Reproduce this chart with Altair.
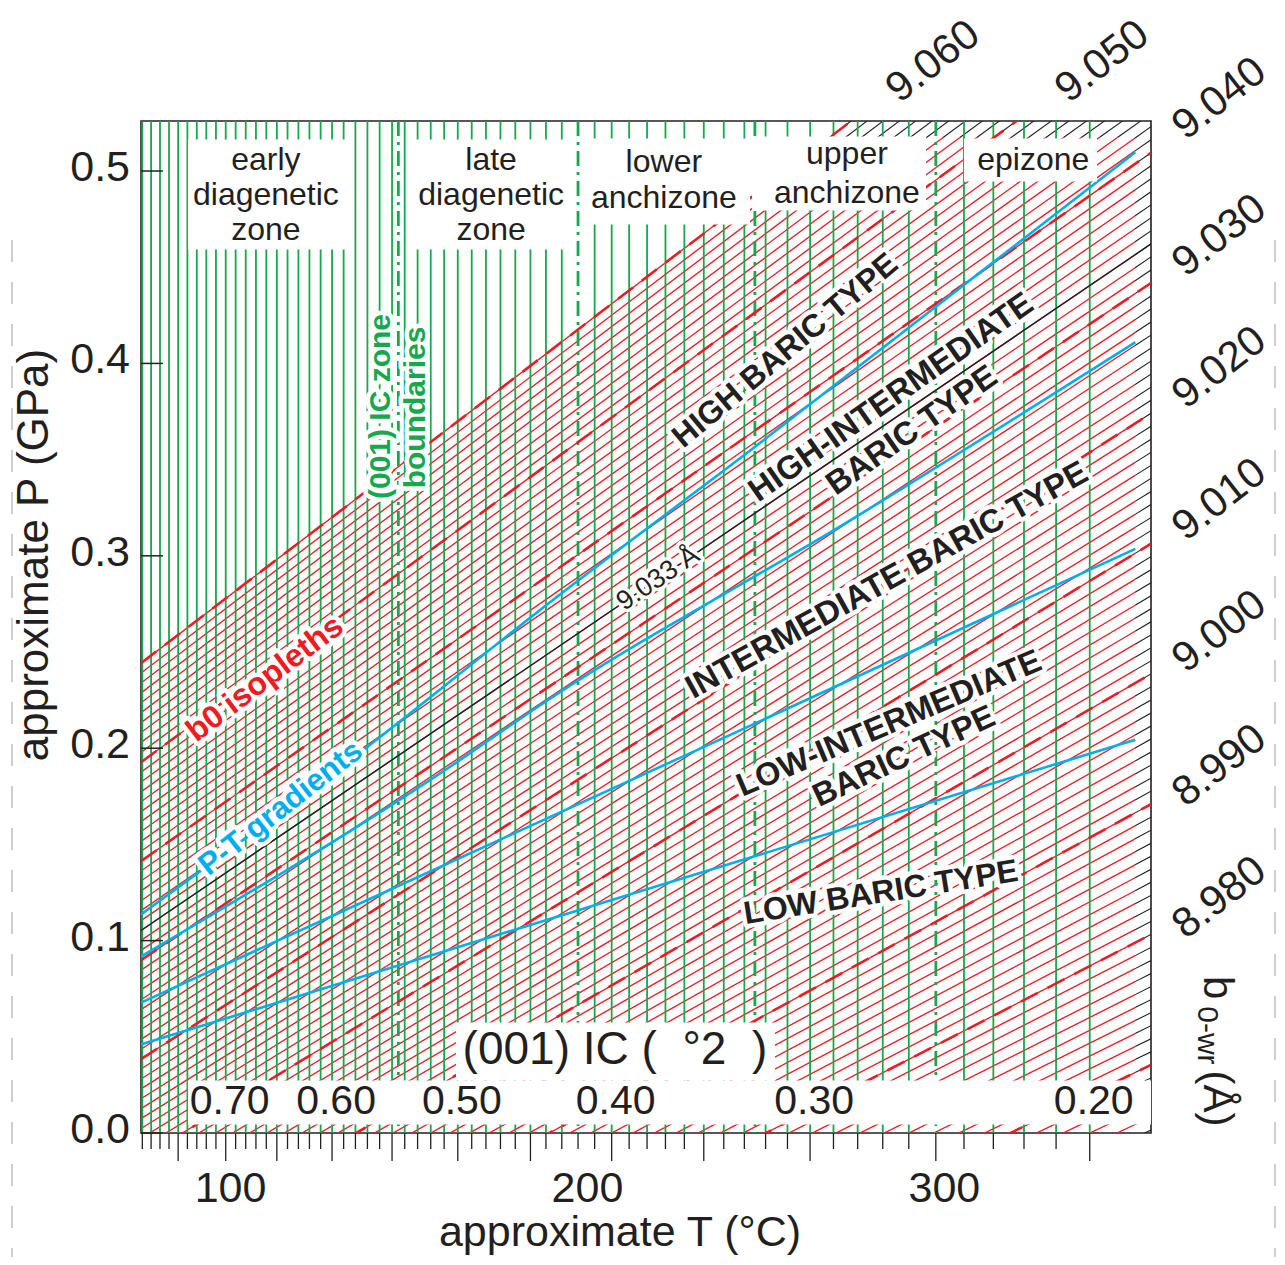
import altair as alt
import pandas as pd

FONT = "Liberation Sans"
INK = "#231f20"
RED = "#ed1c24"
GREEN = "#17a84d"
BLUE = "#00aeef"

W, H = 1010, 1012

# ---------------- axis domains ----------------
T_DOMAIN = [74.9, 357.9]          # approximate T (°C) at left / right edge
P_DOMAIN = [0.0, 0.526]           # approximate P (GPa) at bottom / top edge
IC_DOMAIN = [0.7915, 0.1830]      # (001) IC value at left / right edge (log scale)

t_label_values = [100, 200, 300]
p_tick_values = [0.0, 0.1, 0.2, 0.3, 0.4, 0.5]

# ---------------- (001) IC scale ----------------
ic_ticks = [0.79, 0.78, 0.77, 0.76, 0.75, 0.74, 0.73, 0.72, 0.71, 0.70,
            0.69, 0.68, 0.67, 0.66, 0.65, 0.64, 0.63, 0.62, 0.61, 0.60,
            0.59, 0.58, 0.57, 0.56, 0.55, 0.54, 0.53, 0.52, 0.51, 0.50,
            0.49, 0.48, 0.47, 0.46, 0.45, 0.44, 0.43, 0.42, 0.41, 0.40,
            0.39, 0.38, 0.37, 0.36, 0.35, 0.34, 0.33, 0.32, 0.31, 0.30,
            0.29, 0.28, 0.27, 0.26, 0.25, 0.24, 0.23, 0.22, 0.21, 0.20]
ic_major = [0.75, 0.70, 0.65, 0.60, 0.55, 0.50, 0.45, 0.40, 0.35, 0.30, 0.25, 0.20]
ic_label_values = [0.70, 0.60, 0.50, 0.40, 0.30, 0.20]
ic_label_text = ["0.70", "0.60", "0.50", "0.40", "0.30", "0.20"]
ic_boundaries = [0.545, 0.42, 0.325, 0.25]

# ---------------- b0 isopleths (every 0.010 Å): P at left and right edge ----------------
b0_anchor = [9.060, 9.050, 9.040, 9.030, 9.020, 9.010, 9.000, 8.990, 8.980, 8.970, 8.960]
p_left_anchor = [0.2442, 0.1927, 0.1413, 0.0898, 0.0384, -0.0131, -0.0646, -0.1160, -0.1675, -0.2189, -0.2704]
p_right_anchor = [0.6450, 0.5772, 0.5095, 0.4418, 0.3741, 0.3063, 0.2386, 0.1709, 0.1032, 0.0354, -0.0323]
b0_marked = 9.033
RED_T_MAX = 353.45     # red hatch stops short of the right frame
RED_P_MAX = 0.5174     # and of the top frame (black hatch beyond)

# ---------------- P-T gradients ----------------
grad_high_T = [74.9, 138.2, 189.5, 245.6, 353.5]
grad_high_P = [0.1136, 0.2005, 0.2759, 0.3547, 0.5098]
grad_hint_T = [74.9, 158.7, 189.5, 273.6, 353.5]
grad_hint_P = [0.0917, 0.1869, 0.2258, 0.3184, 0.4110]
grad_int_T = [74.9, 139.9, 231.6, 353.5]
grad_int_P = [0.0678, 0.1224, 0.1998, 0.3036]
grad_lint_T = [74.9, 203.6, 353.5]
grad_lint_P = [0.0460, 0.1193, 0.2044]

# ---------------- annotations ----------------
zone_text = ["early", "diagenetic", "zone", "late", "diagenetic", "zone",
             "lower", "anchizone", "upper", "anchizone", "epizone"]
zone_T = [109.9, 109.9, 109.9, 173.0, 173.0, 173.0, 221.4, 221.4, 272.7, 272.7, 324.9]
zone_P = [0.5055, 0.4873, 0.4691, 0.5055, 0.4873, 0.4691, 0.5049, 0.4862, 0.5091, 0.4888, 0.5055]

box_T1 = [88.06, 149.97, 198.18, 246.10, 305.51, 88.06, 163.16]
box_T2 = [134.29, 195.65, 245.54, 294.86, 342.78, 357.9, 252.55]
box_P1 = [0.5164, 0.5164, 0.5169, 0.5180, 0.5169, 0.0273, 0.0574]
box_P2 = [0.4592, 0.4592, 0.4722, 0.4795, 0.4945, 0.0044, 0.0273]

bold_text = ["HIGH BARIC TYPE", "HIGH-INTERMEDIATE", "BARIC TYPE", "INTERMEDIATE BARIC TYPE",
             "LOW-INTERMEDIATE", "BARIC TYPE", "LOW BARIC TYPE", "b0 isopleths", "P-T gradients",
             "(001) IC zone", "boundaries"]
bold_T = [255.4, 285.1, 290.9, 283.9, 284.5, 288.7, 282.2, 109.6, 114.1, 142.2, 152.0]
bold_P = [0.4067, 0.3823, 0.3651, 0.2872, 0.2128, 0.1957, 0.1250, 0.2362, 0.1687, 0.3776, 0.3771]
bold_angle = [320, 325, 325, 331, 337, 335, 351, 323, 322, 270, 270]
bold_size = [32, 33, 33, 33, 32.5, 32.5, 32, 32, 31, 30, 30]
bold_color = [INK, INK, INK, INK, INK, INK, INK, RED, BLUE, GREEN, GREEN]

b0_label_text = ["9.060", "9.050", "9.040", "9.030", "9.020", "9.010", "9.000", "8.990", "8.980"]
b0_label_T = [296.8, 344.2, 377.0, 377.0, 377.0, 377.0, 377.0, 377.0, 377.0]
b0_label_P = [0.5570, 0.5570, 0.5377, 0.4665, 0.3979, 0.3293, 0.2607, 0.1910, 0.1224]

NB = "\u00a0"
misc_text = ["9.033 Å", "(001) IC (" + NB * 2 + "°2" + NB * 2 + ")", "b", "0-wr", "(Å)"]
misc_T = [219.8, 207.7, 376.4, 373.6, 376.4]
misc_P = [0.2882, 0.0429, 0.0756, 0.0507, 0.0179]
misc_angle = [326, 0, 90, 90, 90]
misc_size = [27, 46, 42, 30, 42]

x_title = "approximate T (°C)"
y_title = "approximate P (GPa)"

# ---------------- scales / helpers ----------------
T_SCALE = alt.Scale(domain=T_DOMAIN, nice=False, zero=False)
P_SCALE = alt.Scale(domain=P_DOMAIN, nice=False, zero=False)
IC_SCALE = alt.Scale(type="log", domain=IC_DOMAIN, nice=False)


def tx(field="T"):
    return alt.X(f"{field}:Q", scale=T_SCALE, axis=None)


def py(field="P"):
    return alt.Y(f"{field}:Q", scale=P_SCALE, axis=None)


def icx(field="ic"):
    return alt.X(f"{field}:Q", scale=IC_SCALE, axis=None)


# ---------------- isopleth tables ----------------
iso_b, iso_pl, iso_pr = [], [], []
for i in range(len(b0_anchor) - 1):
    for k in range(10):
        f = k / 10.0
        iso_b.append(round(b0_anchor[i] - 0.001 * k, 3))
        iso_pl.append(p_left_anchor[i] + (p_left_anchor[i + 1] - p_left_anchor[i]) * f)
        iso_pr.append(p_right_anchor[i] + (p_right_anchor[i + 1] - p_right_anchor[i]) * f)
iso_b.append(b0_anchor[-1])
iso_pl.append(p_left_anchor[-1])
iso_pr.append(p_right_anchor[-1])

t0, t1 = T_DOMAIN
red_rows, blk_rows, marked_rows = [], [], []
for b, pl, pr in zip(iso_b, iso_pl, iso_pr):
    slope = (pr - pl) / (t1 - t0)
    t_top = t0 + (RED_P_MAX - pl) / slope
    tb = max(t0, min(RED_T_MAX, t_top))
    pb = pl + slope * (tb - t0)
    key = f"{b:.3f}"
    if tb > t0:
        red_rows += [{"id": key, "T": t0, "P": pl}, {"id": key, "T": tb, "P": pb}]
    blk_rows += [{"id": key, "T": tb, "P": pb}, {"id": key, "T": t1, "P": pr}]
    if abs(b - b0_marked) < 1e-6:
        marked_rows += [{"id": key, "T": t0, "P": pl}, {"id": key, "T": t1, "P": pr}]

dash_rows = []
for b, pl, pr in zip(b0_anchor, p_left_anchor, p_right_anchor):
    key = f"{b:.3f}"
    dash_rows += [{"id": key, "T": t0, "P": pl}, {"id": key, "T": t1, "P": pr}]

grad_rows = []
for name, ts, ps in [("high", grad_high_T, grad_high_P), ("hint", grad_hint_T, grad_hint_P),
                     ("int", grad_int_T, grad_int_P), ("lint", grad_lint_T, grad_lint_P)]:
    for t, p in zip(ts, ps):
        grad_rows.append({"g": name, "T": t, "P": p})

green_vals = [v for v in ic_ticks if all(abs(v - b) > 1e-6 for b in ic_boundaries)]
minor_vals = [v for v in ic_ticks if all(abs(v - m) > 1e-6 for m in ic_major)]

one = pd.DataFrame({"a": [0]})

# ---------------- group A: hatch ----------------
red_thin = alt.Chart(pd.DataFrame(red_rows)).mark_line(
    clip=True, color=RED, strokeWidth=1.35).encode(x=tx(), y=py(), detail="id:N")
blk_thin = alt.Chart(pd.DataFrame(blk_rows)).mark_line(
    clip=True, color=INK, strokeWidth=1.1).encode(x=tx(), y=py(), detail="id:N")
groupA = alt.layer(red_thin, blk_thin)

# ---------------- group B: green IC lines ----------------
green_lines = alt.Chart(pd.DataFrame({"ic": green_vals})).mark_rule(
    color=GREEN, strokeWidth=1.8).encode(x=icx(), y=alt.value(0), y2=alt.value(H))
bound_lines = alt.Chart(pd.DataFrame({"ic": ic_boundaries})).mark_rule(
    color=GREEN, strokeWidth=2.8, strokeDash=[15, 6, 3, 6]).encode(
    x=icx(), y=alt.value(0), y2=alt.value(H))
groupB = alt.layer(green_lines, bound_lines)

# ---------------- group C: lines, boxes, labels ----------------
dashed = alt.Chart(pd.DataFrame(dash_rows)).mark_line(
    clip=True, color=RED, strokeWidth=2.6, strokeDash=[19, 11]).encode(
    x=tx(), y=py(), detail="id:N")
marked = alt.Chart(pd.DataFrame(marked_rows)).mark_line(
    clip=True, color=INK, strokeWidth=1.4).encode(x=tx(), y=py(), detail="id:N")
grads = alt.Chart(pd.DataFrame(grad_rows)).mark_line(
    clip=True, color=BLUE, strokeWidth=2.6, interpolate="monotone").encode(
    x=tx(), y=py(), detail="g:N")
boxes = alt.Chart(pd.DataFrame({"T1": box_T1, "T2": box_T2, "P1": box_P1, "P2": box_P2})).mark_rect(
    color="white").encode(x=tx("T1"), x2=alt.X2("T2"), y=py("P1"), y2=alt.Y2("P2"))

bold_df = pd.DataFrame({"txt": bold_text, "T": bold_T, "P": bold_P, "angle": bold_angle,
                        "size": bold_size, "color": bold_color})
bold_halo = alt.Chart(bold_df).mark_text(
    font=FONT, fontWeight="bold", align="center", baseline="middle",
    stroke="white", strokeWidth=9, strokeJoin="round").encode(
    x=tx(), y=py(), text="txt:N", angle=alt.Angle("angle:Q", scale=None),
    size=alt.Size("size:Q", scale=None), color=alt.value("white"))
bold_lbl = alt.Chart(bold_df).mark_text(
    font=FONT, fontWeight="bold", align="center", baseline="middle").encode(
    x=tx(), y=py(), text="txt:N", angle=alt.Angle("angle:Q", scale=None),
    size=alt.Size("size:Q", scale=None), color=alt.Color("color:N", scale=None))

misc_df = pd.DataFrame({"txt": misc_text, "T": misc_T, "P": misc_P, "angle": misc_angle,
                        "size": misc_size})
misc_halo = alt.Chart(misc_df.iloc[:1]).mark_text(
    font=FONT, align="center", baseline="middle", stroke="white", strokeWidth=7,
    strokeJoin="round").encode(
    x=tx(), y=py(), text="txt:N", angle=alt.Angle("angle:Q", scale=None),
    size=alt.Size("size:Q", scale=None), color=alt.value("white"))
misc_lbl = alt.Chart(misc_df).mark_text(
    font=FONT, align="center", baseline="middle", color=INK).encode(
    x=tx(), y=py(), text="txt:N", angle=alt.Angle("angle:Q", scale=None),
    size=alt.Size("size:Q", scale=None))

zone_lbl = alt.Chart(pd.DataFrame({"txt": zone_text, "T": zone_T, "P": zone_P})).mark_text(
    font=FONT, fontSize=32, align="center", baseline="middle", color=INK).encode(
    x=tx(), y=py(), text="txt:N")

b0_lbl = alt.Chart(pd.DataFrame({"txt": b0_label_text, "T": b0_label_T, "P": b0_label_P})).mark_text(
    font=FONT, fontSize=42, align="center", baseline="middle", color=INK, angle=322).encode(
    x=tx(), y=py(), text="txt:N")

# axes drawn by hand (inward P ticks, labels, titles)
yticks = alt.Chart(pd.DataFrame({"P": p_tick_values})).mark_rule(
    color=INK, strokeWidth=1.5).encode(y=py(), x=alt.value(0), x2=alt.value(22))
ylabels = alt.Chart(pd.DataFrame({"P": p_tick_values})).mark_text(
    font=FONT, fontSize=43, align="right", baseline="middle", color=INK, dy=-3).encode(
    y=py(), x=alt.value(-11), text=alt.Text("P:Q", format=".1f"))
xlabels = alt.Chart(pd.DataFrame({"T": t_label_values})).mark_text(
    font=FONT, fontSize=43, align="center", baseline="middle", color=INK).encode(
    x=tx(), y=alt.value(H + 56), text=alt.Text("T:Q", format="d"))
xtitle = alt.Chart(pd.DataFrame({"txt": [x_title]})).mark_text(
    font=FONT, fontSize=43, align="center", baseline="middle", color=INK).encode(
    x=alt.value(479), y=alt.value(H + 100), text="txt:N")
ytitle = alt.Chart(pd.DataFrame({"txt": [y_title]})).mark_text(
    font=FONT, fontSize=44, align="center", baseline="middle", color=INK, angle=270).encode(
    x=alt.value(-106), y=alt.value(434), text="txt:N")

page_l = alt.Chart(one).mark_rule(color="#cfcfcf", strokeWidth=2, strokeDash=[22, 20]).encode(
    x=alt.value(-129), y=alt.value(119), y2=alt.value(1136))
page_r = alt.Chart(one).mark_rule(color="#cfcfcf", strokeWidth=2, strokeDash=[22, 20]).encode(
    x=alt.value(1134), y=alt.value(119), y2=alt.value(1136))

groupC = alt.layer(dashed, marked, grads, boxes, bold_halo, bold_lbl, misc_halo, misc_lbl,
                   zone_lbl, b0_lbl, yticks, ylabels, xlabels, xtitle, ytitle, page_l, page_r)

# ---------------- group D: IC ticks & labels ----------------
ic_minor_ticks = alt.Chart(pd.DataFrame({"ic": minor_vals})).mark_rule(
    color=INK, strokeWidth=1.3).encode(x=icx(), y=alt.value(H), y2=alt.value(H + 16))
ic_major_ticks = alt.Chart(pd.DataFrame({"ic": ic_major})).mark_rule(
    color=INK, strokeWidth=1.3).encode(x=icx(), y=alt.value(H), y2=alt.value(H + 28))
ic_lbl = alt.Chart(pd.DataFrame({"ic": ic_label_values, "txt": ic_label_text,
                                 "P": [0.0159] * len(ic_label_values)})).mark_text(
    font=FONT, fontSize=41, align="center", baseline="middle", color=INK, dx=4).encode(
    x=icx(), y=py(), text="txt:N")
groupD = alt.layer(ic_minor_ticks, ic_major_ticks, ic_lbl)

chart = alt.layer(groupA, groupB, groupC, groupD).resolve_scale(x="independent").properties(
    width=W, height=H,
    padding={"left": 133, "top": 113, "right": 126, "bottom": 124},
    autosize=alt.AutoSizeParams(type="none"),
    background="white",
).configure_view(stroke=INK, strokeWidth=1.6)

chart.save("out.html", embed_options={"renderer": "svg", "actions": False})
